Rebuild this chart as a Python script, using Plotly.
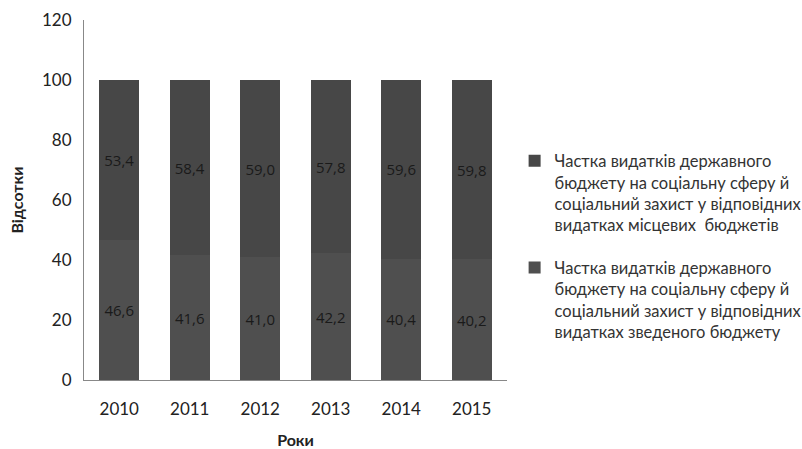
import plotly.graph_objects as go

years = ["2010", "2011", "2012", "2013", "2014", "2015"]
consolidated = [46.6, 41.6, 41.0, 42.2, 40.4, 40.2]
local = [53.4, 58.4, 59.0, 57.8, 59.6, 59.8]

name_local = "Частка видатків державного<br>бюджету на соціальну сферу й<br>соціальний захист у відповідних<br>видатках місцевих  бюджетів"
name_cons = "Частка видатків державного<br>бюджету на соціальну сферу й<br>соціальний захист у відповідних<br>видатках зведеного бюджету"

fig = go.Figure()
fig.add_trace(go.Bar(x=years, y=consolidated, name=name_cons, legendgroup="b", legendrank=2,
                     marker_color="#4f4f4f", marker_line_width=0,
                     texttemplate="%{y:.1f}", textposition="inside", insidetextanchor="middle",
                     textfont=dict(family="Open Sans", size=15, color="#1a1a1a")))
fig.add_trace(go.Bar(x=years, y=local, name=name_local, legendgroup="a", legendrank=1,
                     marker_color="#474747", marker_line_width=0,
                     texttemplate="%{y:.1f}", textposition="inside", insidetextanchor="middle",
                     textfont=dict(family="Open Sans", size=15, color="#1a1a1a")))

fig.update_layout(
    barmode="stack", bargap=0.43,
    width=802, height=449,
    margin=dict(l=84, r=295, t=20, b=69, autoexpand=False),
    plot_bgcolor="white", paper_bgcolor="white",
    separators=", ",
    font=dict(family="Lato", color="#222222"),
    legend=dict(x=1.018, y=0.657, xanchor="left", yanchor="top", traceorder="grouped",
                font=dict(family="Lato", size=16.5, color="#333333"), valign="top",
                tracegroupgap=18, itemwidth=30),
    showlegend=True,
    uniformtext=dict(minsize=8, mode="show"),
)
fig.update_yaxes(range=[0, 120], dtick=20, showgrid=False, showline=True, linecolor="#888888",
                 linewidth=1, ticks="", ticklabelstandoff=8, automargin=False,
                 tickfont=dict(family="Lato", size=17, color="#222222"),
                 title=dict(text="<b>Відсотки</b>", font=dict(family="Lato", size=16, color="#222222"), standoff=14),
                 zeroline=False)
fig.update_xaxes(showline=True, linecolor="#888888", linewidth=1, ticks="", ticklabelstandoff=14,
                 automargin=False,
                 tickfont=dict(family="Lato", size=17, color="#222222"),
                 title=dict(text="<b>Роки</b>", font=dict(family="Lato", size=16, color="#222222"), standoff=20))

fig.write_html("out.html")
